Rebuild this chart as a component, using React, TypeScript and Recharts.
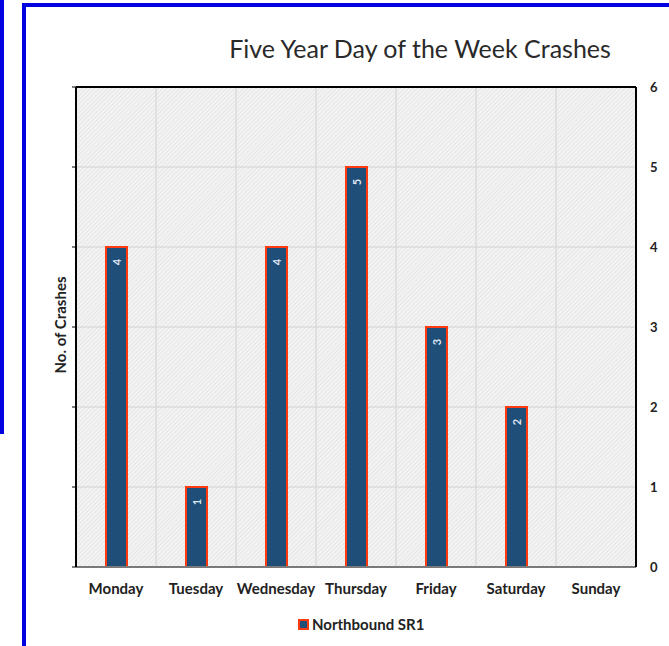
import React from 'react';
import {
    ComposedChart,
    Bar,
    Line,
    XAxis,
    YAxis,
    CartesianGrid,
    ReferenceLine,
    LabelList
} from 'recharts';

const days = ['Monday', 'Tuesday', 'Wednesday', 'Thursday', 'Friday', 'Saturday', 'Sunday'];
const crashes = [4, 1, 4, 5, 3, 2, 0];
const yTicks = [0, 1, 2, 3, 4, 5, 6];
const seriesName = 'Northbound SR1';

const data = days.map((day, i) => ({ day, value: crashes[i] }));

const FONT = 'Lato, "Open Sans", sans-serif';
const BLUE = '#0000e0';

// rotated value label near the top of each bar
const BarValue = (props: any) => {
    const { x, y, width, value } = props;
    if (!value) return null;
    const cx = x + width / 2;
    const cy = y + 15;
    return (
        <text
            x={cx}
            y={cy}
            transform={`rotate(-90, ${cx}, ${cy})`}
            textAnchor="middle"
            dominantBaseline="central"
            fill="#dfe6f0"
            fontSize={11}
            fontFamily={FONT}
            fontWeight="bold"
        >
            {value}
        </text>
    );
};

export default function App() {
    return (
        <div style={{ position: 'absolute', left: 0, top: 0, width: 669, height: 646, overflow: 'hidden', background: '#fff', fontFamily: FONT }}>
            {/* blue frames */}
            <div style={{ position: 'absolute', left: -100, top: -10, width: 104, height: 444, border: `4px solid ${BLUE}`, boxSizing: 'border-box' }} />
            <div style={{ position: 'absolute', left: 22, top: 3, width: 720, height: 720, border: `4px solid ${BLUE}`, boxSizing: 'border-box' }} />

            <div style={{ position: 'absolute', left: 0, top: 33, width: 840, textAlign: 'center', fontSize: 25, color: '#2a2a2a', lineHeight: '30px' }}>
                Five Year Day of the Week Crashes
            </div>

            <div style={{ position: 'absolute', left: 0, top: 315, width: 120, height: 20, lineHeight: '20px', textAlign: 'center', fontSize: 15, fontWeight: 'bold', color: '#222', transform: 'rotate(-90deg)' }}>
                No. of Crashes
            </div>

            <div style={{ position: 'absolute', left: 0, top: 0 }}>
                <ComposedChart width={669} height={646} data={data} margin={{ top: 87, right: 3, bottom: 49, left: 66 }}>
                    <defs>
                        <pattern id="hatch" width="3" height="3" patternUnits="userSpaceOnUse" patternTransform="rotate(45)">
                            <rect width="3" height="3" fill="#f3f3f3" />
                            <line x1="0" y1="0" x2="0" y2="3" stroke="#dadada" strokeWidth="1" />
                        </pattern>
                    </defs>
                    <CartesianGrid
                        yAxisId="right"
                        fill="url(#hatch)"
                        fillOpacity={1}
                        stroke="#d2d2d2"
                        strokeWidth={1}
                        verticalCoordinatesGenerator={({ offset }: any) =>
                            days.slice(1).map((_, i) => offset.left + ((i + 1) * offset.width) / days.length)
                        }
                    />
                    <XAxis
                        dataKey="day"
                        height={30}
                        tickLine={false}
                        axisLine={{ stroke: '#7a7a7a', strokeWidth: 2 }}
                        tickMargin={10}
                        tick={{ fontSize: 15, fontWeight: 'bold', fill: '#222', fontFamily: FONT }}
                        interval={0}
                    />
                    <YAxis
                        yAxisId="left"
                        orientation="left"
                        width={10}
                        domain={[0, 6]}
                        ticks={yTicks}
                        tick={() => <g />}
                        tickSize={4}
                        tickLine={{ stroke: '#000', strokeWidth: 1 }}
                        axisLine={{ stroke: '#000', strokeWidth: 2 }}
                    />
                    <YAxis
                        yAxisId="right"
                        orientation="right"
                        width={30}
                        domain={[0, 6]}
                        ticks={yTicks}
                        tickLine={false}
                        tickSize={0}
                        tickMargin={14}
                        axisLine={{ stroke: '#000', strokeWidth: 2 }}
                        tick={{ fontSize: 13, fontWeight: 'bold', fill: '#222', fontFamily: FONT }}
                    />
                    <ReferenceLine yAxisId="right" y={6} stroke="#000" strokeWidth={2} />
                    <Bar
                        yAxisId="right"
                        dataKey="value"
                        name={seriesName}
                        barSize={21}
                        fill="#1f4e79"
                        stroke="#ff3a10"
                        strokeWidth={2}
                        isAnimationActive={false}
                    >
                        <LabelList dataKey="value" content={BarValue} />
                    </Bar>
                    {/* invisible series to keep the left axis alive */}
                    <Line
                        yAxisId="left"
                        dataKey="value"
                        stroke="none"
                        dot={false}
                        activeDot={false}
                        legendType="none"
                        isAnimationActive={false}
                    />
                </ComposedChart>
            </div>

            {/* legend */}
            <div style={{ position: 'absolute', left: 298, top: 615, display: 'flex', alignItems: 'center', fontSize: 15, fontWeight: 'bold', color: '#222' }}>
                <span style={{ display: 'inline-block', width: 7, height: 7, background: '#1f4e79', border: '2px solid #ff3a10', marginRight: 3 }} />
                <span>{seriesName}</span>
            </div>
        </div>
    );
}
